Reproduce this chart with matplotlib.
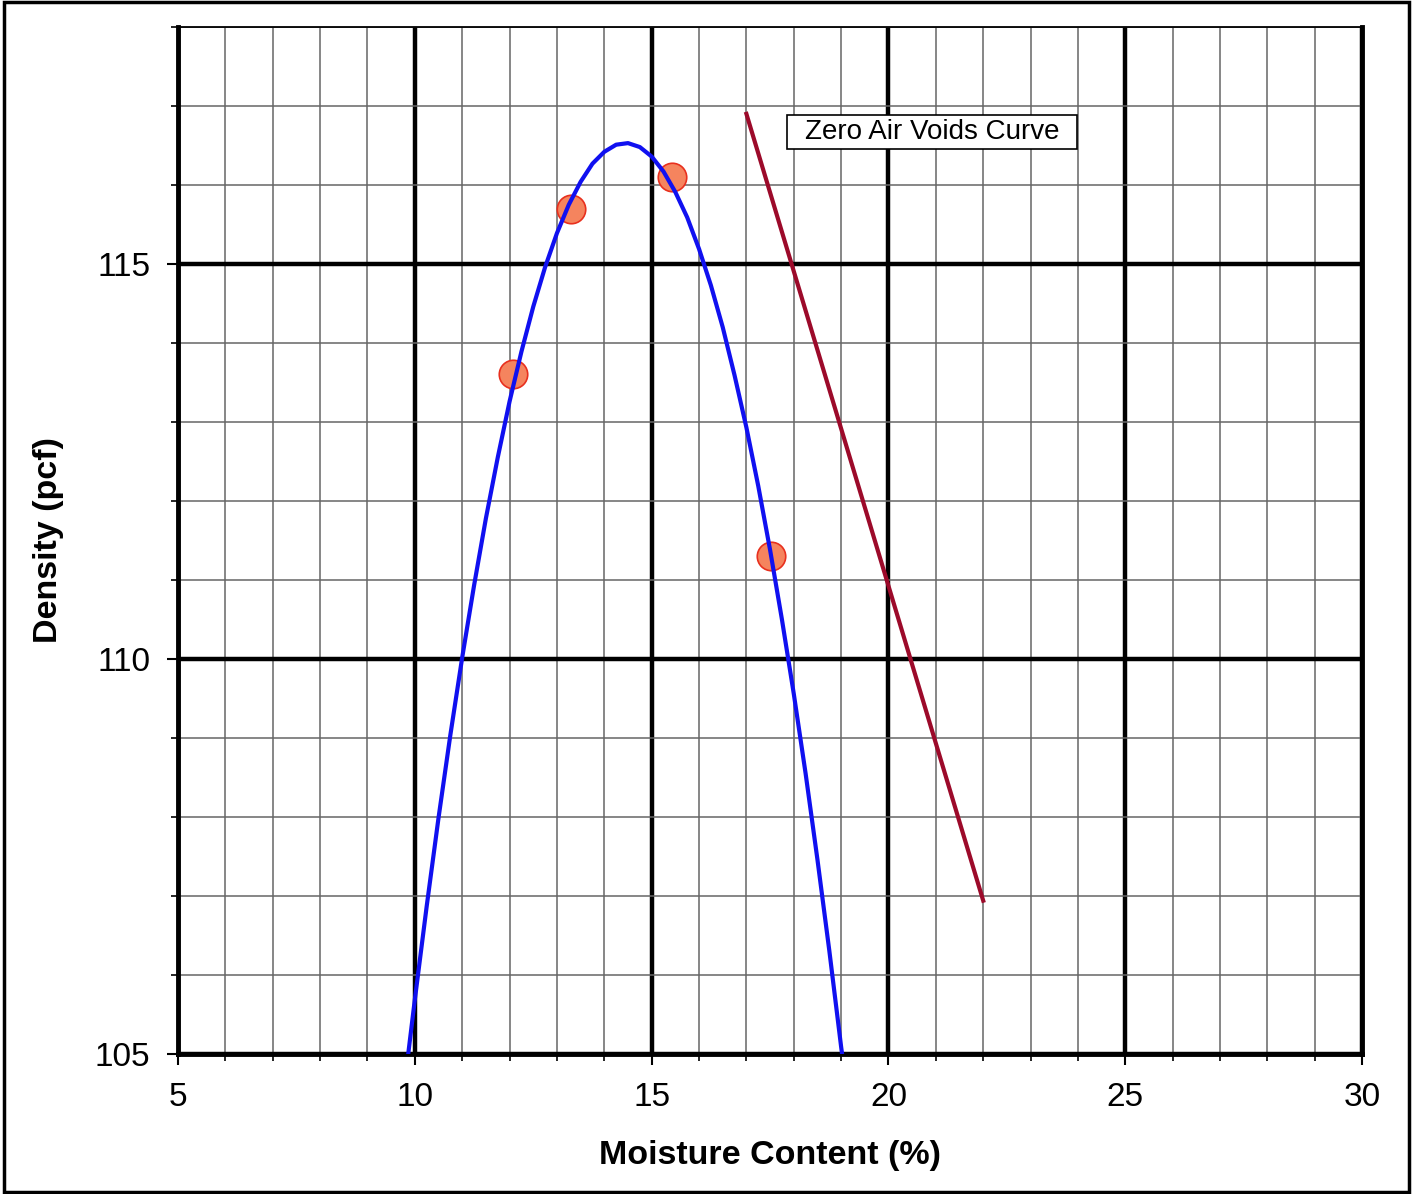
import matplotlib.pyplot as plt
import matplotlib.patches as mpatches
from matplotlib.ticker import MultipleLocator

plt.rcParams['font.family'] = ['Liberation Sans', 'DejaVu Sans']

# measured points
moisture = [12.07, 13.30, 15.43, 17.52]
density = [113.61, 115.69, 116.10, 111.30]

# fitted curve
curve_x = [9.86, 10.0, 10.25, 10.5, 10.75, 11.0, 11.25, 11.5, 11.75, 12.0, 12.25,
           12.5, 12.75, 13.0, 13.25, 13.5, 13.75, 14.0, 14.25, 14.5, 14.75, 15.0,
           15.25, 15.5, 15.75, 16.0, 16.25, 16.5, 16.75, 17.0, 17.25, 17.5, 17.75,
           18.0, 18.25, 18.5, 18.75, 19.0, 19.02]
curve_y = [105.00, 105.69, 106.87, 107.99, 109.04, 110.02, 110.93, 111.78, 112.55,
           113.26, 113.89, 114.46, 114.96, 115.39, 115.75, 116.04, 116.27, 116.42,
           116.51, 116.53, 116.48, 116.36, 116.17, 115.91, 115.59, 115.19, 114.73,
           114.20, 113.59, 112.93, 112.19, 111.38, 110.50, 109.56, 108.55, 107.46,
           106.31, 105.09, 105.00]

# zero air voids line
zav_x = [17.0, 22.0]
zav_y = [116.90, 106.94]

x_ticks = [5, 10, 15, 20, 25, 30]
y_ticks = [105, 110, 115]

fig = plt.figure(figsize=(14.13, 11.94), dpi=100)
ax = fig.add_axes([0.126, 0.1173, 0.838, 0.8601])

# outer frame
fig.patches.append(mpatches.Rectangle((0.003, 0.002), 0.994, 0.996, transform=fig.transFigure,
                                      fill=False, edgecolor='black', linewidth=2.5))

ax.set_xlim(5, 30)
ax.set_ylim(105, 118)
ax.xaxis.set_minor_locator(MultipleLocator(1))
ax.yaxis.set_minor_locator(MultipleLocator(1))
ax.set_xticks(x_ticks)
ax.set_yticks(y_ticks)

ax.grid(which='minor', color='#666666', linewidth=1.1, zorder=0)
ax.grid(which='major', color='black', linewidth=3.2, zorder=1)
ax.set_axisbelow(True)

for s in ['left', 'bottom', 'right']:
    ax.spines[s].set_linewidth(3.5)
ax.spines['top'].set_linewidth(1.3)

ax.tick_params(which='major', direction='out', length=8, width=1.5, labelsize=24, pad=12)
ax.tick_params(which='minor', direction='out', length=5, width=1.2)

ax.scatter(moisture, density, s=420, color='#F5845E', edgecolor='#E8301E', linewidth=1.2, zorder=3)
ax.plot(curve_x, curve_y, color='#1010F0', linewidth=3, zorder=4)
ax.plot(zav_x, zav_y, color='#9C0A2A', linewidth=3, zorder=4)

# label box
ax.add_patch(mpatches.Rectangle((17.86, 116.45), 6.12, 0.44, facecolor='white',
                                edgecolor='black', linewidth=1.2, zorder=5))
ax.text(20.92, 116.67, 'Zero Air Voids Curve', fontsize=20, ha='center', va='center', zorder=6)

ax.set_xlabel('Moisture Content (%)', fontsize=24.5, fontweight='bold', labelpad=20)
ax.set_ylabel('Density (pcf)', fontsize=24.5, fontweight='bold', labelpad=22)

fig.savefig('out.png', dpi=100)
